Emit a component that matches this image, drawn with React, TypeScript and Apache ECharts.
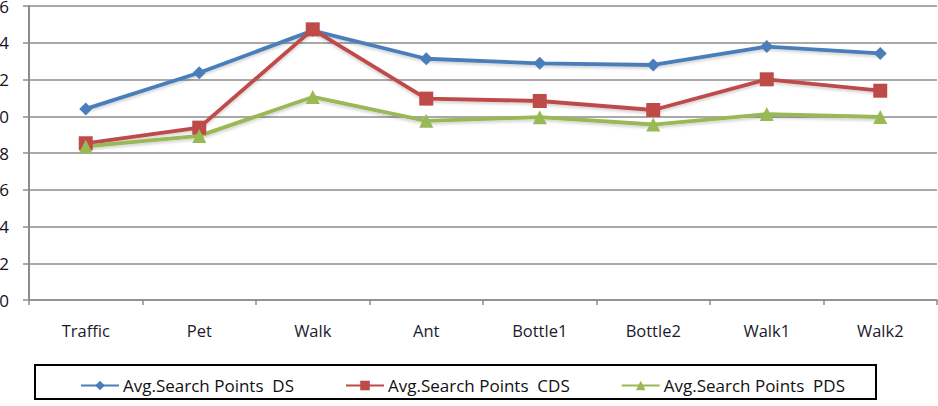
import React, { useEffect, useRef } from "react";
import * as echarts from "echarts";

const categories = ["Traffic", "Pet", "Walk", "Ant", "Bottle1", "Bottle2", "Walk1", "Walk2"];
const dsValues = [10.4, 12.37, 14.66, 13.13, 12.88, 12.79, 13.79, 13.42];
const cdsValues = [8.53, 9.38, 14.73, 10.96, 10.83, 10.34, 12.01, 11.39];
const pdsValues = [8.36, 8.93, 11.05, 9.75, 9.95, 9.55, 10.12, 9.96];
const seriesNames = [
  "Avg.Search Points  DS",
  "Avg.Search Points  CDS",
  "Avg.Search Points  PDS",
];

const FONT = "'Open Sans', 'Noto Sans', sans-serif";
const GRID_COLOR = "#8c8c8c";

export default function App() {
  const ref = useRef<HTMLDivElement>(null);

  useEffect(() => {
    if (!ref.current) return;
    const chart = echarts.init(ref.current, undefined, { renderer: "svg" });
    const mk = (name: string, data: number[], color: string, symbol: string, size: number) => ({
      name,
      type: "line",
      data,
      symbol,
      symbolSize: size,
      showSymbol: true,
      lineStyle: { width: 3.8, color, shadowColor: "rgba(0,0,0,0.18)", shadowBlur: 3, shadowOffsetY: 2 },
      itemStyle: { color },
      emphasis: { disabled: true },
    });
    chart.setOption({
      animation: false,
      backgroundColor: "#ffffff",
      textStyle: { fontFamily: FONT },
      grid: {
        left: 29,
        right: 1,
        top: 6,
        bottom: 106,
        containLabel: false,
        outerBoundsMode: "none",
      },
      xAxis: {
        type: "category",
        data: categories,
        boundaryGap: true,
        axisLine: { show: true, lineStyle: { color: GRID_COLOR, width: 1.5 } },
        axisTick: { show: true, length: 5, alignWithLabel: false, lineStyle: { color: GRID_COLOR, width: 1.5 } },
        axisLabel: { margin: 22, fontSize: 16.5, color: "#1b1b2b", fontFamily: FONT },
      },
      yAxis: {
        type: "value",
        min: 0,
        max: 16,
        interval: 2,
        axisLine: { show: true, lineStyle: { color: GRID_COLOR, width: 2 } },
        axisTick: { show: true, length: 6, lineStyle: { color: GRID_COLOR, width: 1.5 } },
        axisLabel: { margin: 20, fontSize: 17, color: "#111122", fontFamily: FONT },
        splitLine: { show: true, lineStyle: { color: GRID_COLOR, width: 1.5 } },
      },
      legend: {
        data: seriesNames,
        left: 75,
        top: 372,
        itemWidth: 38,
        itemHeight: 12,
        itemGap: 51,
        textStyle: { fontSize: 17, color: "#111111", fontFamily: FONT, padding: [0, 0, 0, -1] },
      },
      graphic: [
        {
          type: "rect",
          shape: { x: 35, y: 365, width: 841, height: 34 },
          style: { fill: "none", stroke: "#000000", lineWidth: 2 },
          silent: true,
        },
      ],
      series: [
        mk(seriesNames[0], dsValues, "#4a7ebb", "diamond", 13),
        mk(seriesNames[1], cdsValues, "#be4b48", "rect", 14),
        mk(seriesNames[2], pdsValues, "#98b954", "triangle", 14),
      ],
    });
    return () => chart.dispose();
  }, []);

  return <div ref={ref} style={{ width: 938, height: 406, position: "absolute", left: 0, top: 0 }} />;
}
